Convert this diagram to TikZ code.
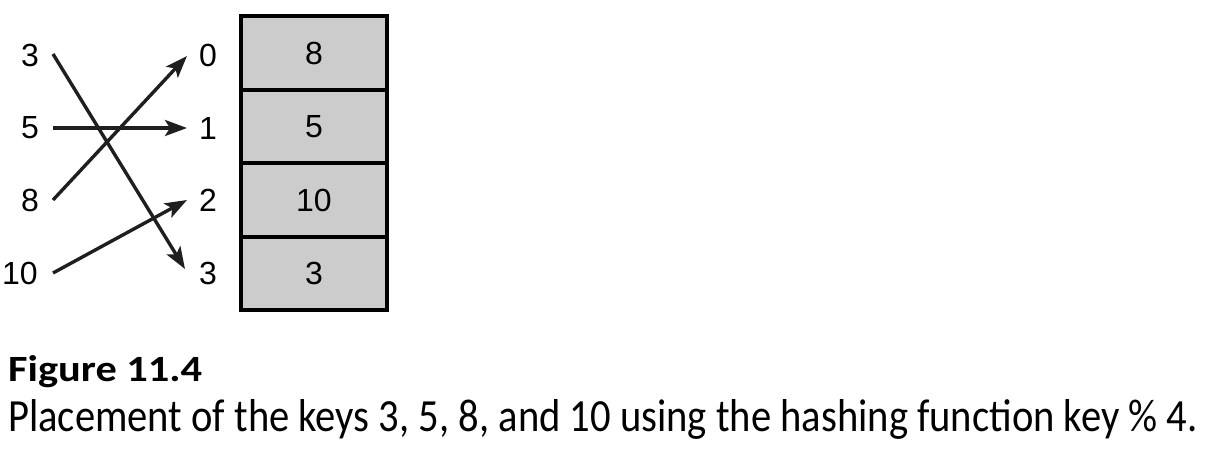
\documentclass[tikz,border=0pt]{standalone}
\usepackage{fontspec}
\setmainfont{Liberation Sans}
\newfontfamily\capfont{Carlito}
\usetikzlibrary{arrows.meta}
\tikzset{
  lab/.style={font=\fontsize{32}{34}\selectfont, inner sep=0pt, anchor=center},
  cell/.style={draw, line width=3.8pt, fill=cellgray, minimum width=146pt, minimum height=73.5pt, inner sep=0pt, font=\fontsize{32}{34}\selectfont},
  link/.style={line width=3.4pt, -{Stealth[length=22pt,width=16pt,inset=5pt]}, color=black!88}
}
\definecolor{cellgray}{RGB}{204,204,204}
\begin{document}
\begin{tikzpicture}[x=1pt,y=-1pt]
\useasboundingbox (0,0) rectangle (1205,469);
% key labels
\node[lab] (k3) at (30,55) {3};
\node[lab] (k5) at (30,128) {5};
\node[lab] (k8) at (30,200) {8};
\node[lab] (k10) at (20,273) {10};
% index labels
\node[lab] (i0) at (208,55) {0};
\node[lab] (i1) at (208,128) {1};
\node[lab] (i2) at (208,200) {2};
\node[lab] (i3) at (208,273) {3};
% arrow ends
\coordinate (s3) at (53,54);
\coordinate (s5) at (53,128);
\coordinate (s8) at (53,200);
\coordinate (s10) at (53,273);
\coordinate (e0) at (187,56);
\coordinate (e1) at (187,128);
\coordinate (e2) at (187,200);
\coordinate (e3) at (185,269);
% table
\node[cell] (c0) at (314,53) {8};
\node[cell] (c1) at (314,126.5) {5};
\node[cell] (c2) at (314,200) {10};
\node[cell] (c3) at (314,273.5) {3};
% connectors
\draw[link] (s3) -- (e3);
\draw[link] (s5) -- (e1);
\draw[link] (s8) -- (e0);
\draw[link] (s10) -- (e2);
% caption
\node[anchor=south west, inner sep=0pt] (fig) at (8,388) {\resizebox{194pt}{26pt}{\capfont\bfseries Figure 11.4}};
\node[anchor=south west, inner sep=0pt] (cap) at (8,440) {\resizebox{1189pt}{32pt}{\capfont Placement of the keys 3, 5, 8, and 10 using the hashing function key \% 4.}};
\end{tikzpicture}
\end{document}
